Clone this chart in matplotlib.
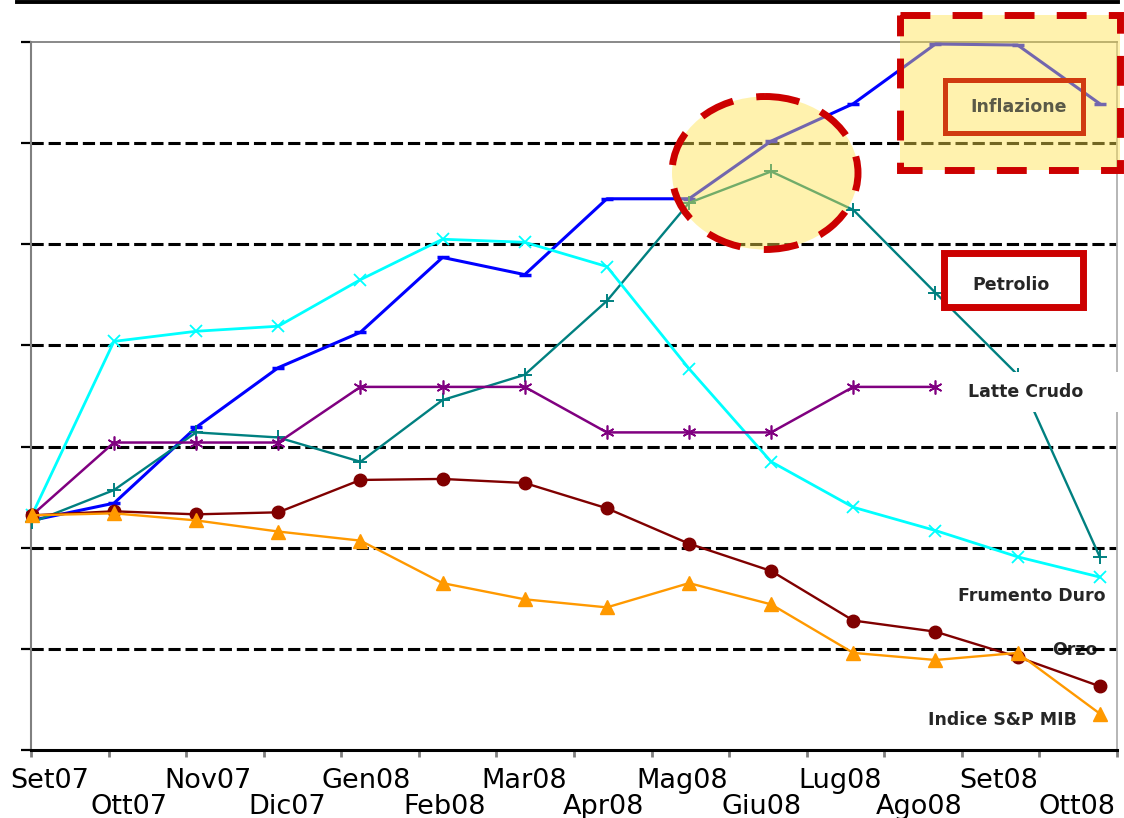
import matplotlib
matplotlib.use('Agg')
import matplotlib.pyplot as plt
from matplotlib.patches import Rectangle, Ellipse
from matplotlib.lines import Line2D
from matplotlib.transforms import Affine2D
import numpy as np

# Monthly price indices, Sep 2007 - Oct 2008
months = ['Set07', 'Ott07', 'Nov07', 'Dic07', 'Gen08', 'Feb08', 'Mar08',
          'Apr08', 'Mag08', 'Giu08', 'Lug08', 'Ago08', 'Set08', 'Ott08']
inflazione = [92.7, 94.4, 101.9, 107.8, 111.3, 118.7, 117.0,
              124.5, 124.5, 130.2, 133.9, 139.8, 139.7, 133.9]
petrolio = [92.5, 95.7, 101.4, 100.9, 98.5, 104.6, 107.1,
            114.4, 124.1, 127.2, 123.4, 115.2, 107.1, 89.1]
frumento_duro = [93.2, 110.4, 111.4, 111.9, 116.5, 120.5, 120.2,
                 117.8, 107.7, 98.5, 94.0, 91.7, 89.1, 87.1]
latte_crudo = [93.2, 100.4, 100.4, 100.4, 105.9, 105.9, 105.9,
               101.4, 101.4, 101.4, 105.9, 105.9, np.nan, np.nan]
orzo = [93.2, 93.6, 93.3, 93.5, 96.7, 96.8, 96.4,
        93.9, 90.4, 87.7, 82.8, 81.7, 79.2, 76.3]
sp_mib = [93.2, 93.4, 92.7, 91.6, 90.7, 86.5, 84.9,
          84.1, 86.5, 84.4, 79.6, 78.9, 79.6, 73.6]

W, H = 1124, 818
fig = plt.figure(figsize=(W / 100, H / 100), dpi=100)
ax = fig.add_axes([31 / W, 1 - 750 / H, (1117 - 31) / W, (750 - 42) / H])

# pixel coordinates (origin top-left) for the callouts
px = Affine2D().scale(1 / W, -1 / H).translate(0, 1) + fig.transFigure

x = np.arange(len(months))
x0, x1 = -0.01, 13.21
ax.set_xlim(x0, x1)
ax.set_ylim(70, 140)

# grid
for v in range(80, 140, 10):
    ax.axhline(v, color='black', lw=2.2, dashes=(4, 1.6), zorder=1)

series = [
    (inflazione, dict(color='#0000FF', marker='_', ms=8, mew=2.5, lw=2.2)),
    (petrolio, dict(color='#008080', marker='+', ms=10, mew=1.4, lw=1.7)),
    (frumento_duro, dict(color='#00FFFF', marker='x', ms=8, mew=1.3, lw=2.0)),
    (latte_crudo, dict(color='#800080', marker=(6, 2, 0), ms=10, mew=1.2, lw=1.8)),
    (orzo, dict(color='#800000', marker='o', ms=9, lw=1.7)),
    (sp_mib, dict(color='#FF9900', marker='^', ms=10, lw=1.7)),
]
for vals, style in series:
    ax.plot(x, vals, zorder=3, clip_on=False, **style)

# axes styling
ax.set_xticks(np.linspace(x0, x1, 15))
ax.set_xticklabels([])
ax.set_yticks(range(70, 141, 10))
ax.set_yticklabels([])
ax.tick_params(axis='x', length=5, width=2, color='#808080', direction='out')
ax.tick_params(axis='y', length=7, width=1.6, color='black', direction='out')
ax.spines['left'].set_color('#808080')
ax.spines['left'].set_linewidth(1.5)
ax.spines['bottom'].set_color('black')
ax.spines['bottom'].set_linewidth(2.2)
ax.spines['top'].set_color('#808080')
ax.spines['top'].set_linewidth(1.3)
ax.spines['right'].set_color('#B0B0B0')
ax.spines['right'].set_linewidth(1.3)

# staggered month labels
for i, m in enumerate(months):
    pos = (18 + 79.2 * i) / 82.3
    row = -0.0537 if i % 2 == 0 else -0.0904
    ax.text(pos, row, m, transform=ax.get_xaxis_transform(), ha='center',
            va='baseline', fontsize=19.5, family='DejaVu Sans', clip_on=False)

# slide rule at the top
fig.add_artist(Line2D([17, 1118], [1.5, 1.5], transform=px, color='black', lw=2.8))

red = '#CC0000'
yellow = (1.0, 0.89, 0.3, 0.45)
lab = dict(family='DejaVu Sans', fontweight='bold', fontsize=12.5, color='#262626')

# highlight on the oil peak
fig.add_artist(Ellipse((765, 173), 186, 153, transform=px, facecolor=yellow,
                       edgecolor='none', zorder=4))
fig.add_artist(Ellipse((765, 173), 186, 153, transform=px, facecolor='none',
                       edgecolor=red, lw=5, linestyle=(0, (5, 3.4)), zorder=5))

# inflation box
fig.add_artist(Rectangle((900, 15), 220, 155, transform=px, facecolor=yellow,
                         edgecolor='none', zorder=4))
fig.add_artist(Rectangle((900, 15), 220, 155, transform=px, facecolor='none',
                         edgecolor=red, lw=5, linestyle=(0, (4.3, 3.2)), zorder=5))
fig.add_artist(Rectangle((945, 80), 138, 53, transform=px, facecolor='none',
                         edgecolor='#D03A10', lw=3.6, zorder=5))
fig.text(1019 / W, 1 - 107 / H, 'Inflazione', ha='center', va='center',
         zorder=6, **{**lab, 'color': '#5A5A48'})

# oil label
fig.add_artist(Rectangle((944, 253), 139, 54, transform=px, facecolor='white',
                         edgecolor=red, lw=5, zorder=5))
fig.text(1011 / W, 1 - 285 / H, 'Petrolio', ha='center', va='center', zorder=6, **lab)

# raw milk label on a white patch
fig.add_artist(Rectangle((955, 372), 169, 40, transform=px, facecolor='white',
                         edgecolor='none', zorder=5))
fig.text(968 / W, 1 - 392 / H, 'Latte Crudo', ha='left', va='center', zorder=6, **lab)

fig.text(1105 / W, 1 - 596 / H, 'Frumento Duro', ha='right', va='center', zorder=6, **lab)
ax.text(1075, 650, 'Orzo', transform=px, ha='center', va='center', zorder=0.5,
        clip_on=False, **lab)
fig.text(1077 / W, 1 - 720 / H, 'Indice S&P MIB', ha='right', va='center', zorder=6, **lab)

fig.savefig('out.png', dpi=100)
